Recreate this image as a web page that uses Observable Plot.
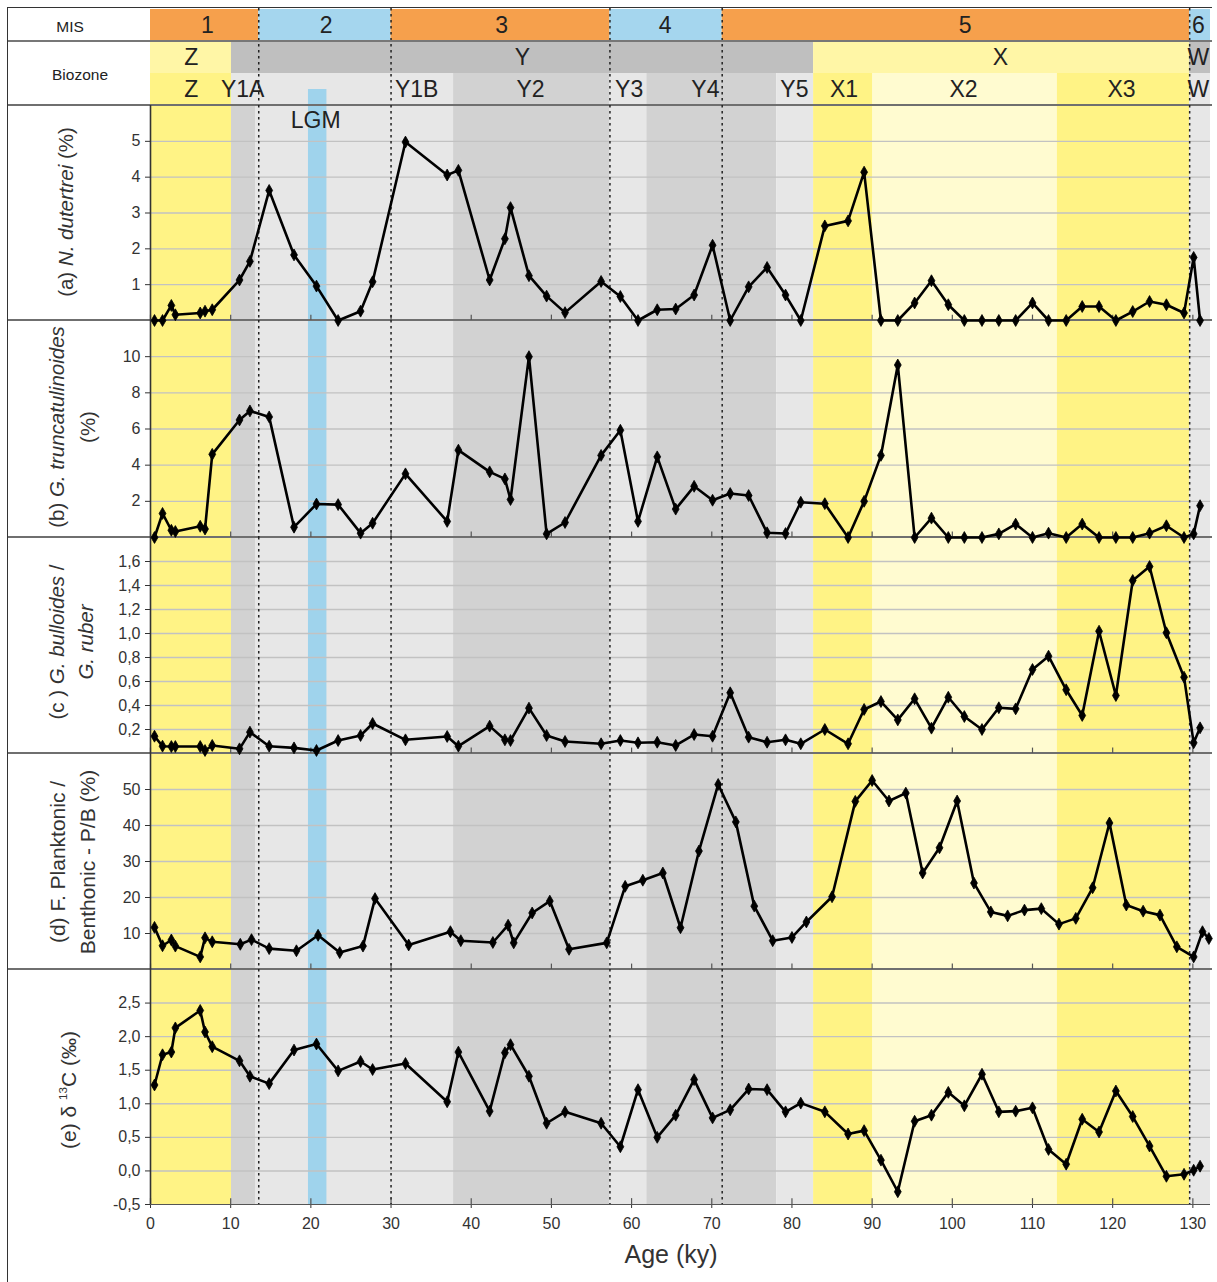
<!DOCTYPE html>
<html>
<head>
<meta charset="utf-8">
<script src="https://cdn.jsdelivr.net/npm/d3@7"></script>
<script src="https://cdn.jsdelivr.net/npm/@observablehq/plot@0.6"></script>
<style>
  body { margin: 0; background: #fff; font-family: "Liberation Sans", Arial, sans-serif; }
  #fig { position: relative; width: 1217px; height: 1282px; overflow: hidden; background: #fff; }
  .pane { position: absolute; left: 0; }
  .pane svg { display: block; }
  .hl { position: absolute; left: 8px; width: 1204px; height: 0; z-index: 2; }
  .vl { position: absolute; z-index: 2; width: 0; }
</style>
</head>
<body>
<div id="fig"></div>
<script>
// ---------- DATA ----------
// sample ages (ky) shared by panels a, b, c, e
const ages = [0.5,1.5,2.6,3.1,6.2,6.8,7.7,11.1,12.4,14.8,17.9,20.7,23.4,26.2,27.7,31.8,37.0,38.4,42.3,44.2,44.9,47.2,49.4,51.7,56.2,58.6,60.8,63.2,65.5,67.8,70.1,72.3,74.6,76.9,79.2,81.1,84.1,87.0,89.0,91.1,93.2,95.3,97.4,99.5,101.5,103.7,105.8,107.9,110.0,112.0,114.2,116.2,118.3,120.4,122.5,124.6,126.7,128.9,130.1,130.9];
// sample ages as plotted in panel d (slightly stretched axis in the original)
const agesD = [0.5,1.5,2.6,3.1,6.2,6.8,7.7,11.2,12.6,14.8,18.2,20.9,23.6,26.5,28.0,32.2,37.4,38.7,42.7,44.6,45.3,47.6,49.8,52.2,56.9,59.2,61.4,63.9,66.1,68.4,70.8,73.0,75.3,77.6,80.0,81.8,85.0,87.9,90.0,92.1,94.2,96.3,98.4,100.6,102.7,104.8,106.9,109.0,111.1,113.3,115.4,117.5,119.6,121.7,123.8,125.9,128.0,130.1,131.2,132.0];

const dutertrei = [0,0,0.42,0.16,0.21,0.26,0.30,1.13,1.65,3.63,1.83,0.96,0,0.26,1.08,4.98,4.06,4.19,1.13,2.28,3.15,1.25,0.68,0.22,1.09,0.67,0,0.30,0.32,0.71,2.10,0,0.94,1.48,0.71,0,2.64,2.78,4.14,0,0,0.49,1.11,0.44,0,0,0,0,0.49,0,0,0.39,0.39,0,0.25,0.53,0.44,0.21,1.76,0];
const truncatulinoides = [0,1.33,0.40,0.33,0.62,0.47,4.60,6.50,7.00,6.67,0.57,1.85,1.82,0.24,0.79,3.52,0.89,4.83,3.63,3.24,2.10,10.0,0.20,0.83,4.54,5.93,0.89,4.46,1.57,2.83,2.06,2.43,2.32,0.26,0.22,1.95,1.87,0,2.00,4.54,9.54,0,1.07,0,0,0,0.20,0.74,0,0.24,0,0.74,0,0,0,0.24,0.65,0,0.20,1.76];
const bullRuber = [0.144,0.061,0.058,0.058,0.058,0.025,0.067,0.039,0.178,0.061,0.047,0.025,0.108,0.150,0.250,0.114,0.142,0.061,0.228,0.114,0.108,0.378,0.150,0.100,0.081,0.108,0.089,0.094,0.067,0.158,0.144,0.506,0.136,0.094,0.114,0.081,0.200,0.081,0.367,0.433,0.280,0.456,0.211,0.469,0.308,0.200,0.381,0.372,0.700,0.811,0.531,0.317,1.019,0.483,1.442,1.558,1.006,0.636,0.089,0.214];
const planktonicPB = [11.7,6.6,8.2,6.5,3.5,8.8,7.7,7.0,8.3,5.8,5.2,9.5,4.7,6.5,19.7,6.8,10.5,8.0,7.5,12.3,7.4,15.7,19.0,5.6,7.4,23.1,24.8,26.8,11.6,32.9,51.4,41.0,17.6,8.0,8.9,13.2,20.2,46.7,52.5,46.8,49.0,26.8,33.8,46.8,24.0,16.0,14.9,16.5,16.9,12.6,14.2,22.7,40.7,17.9,16.2,15.1,6.3,3.5,10.5,8.6];
const d13C = [1.28,1.73,1.77,2.13,2.39,2.07,1.85,1.64,1.41,1.30,1.80,1.89,1.49,1.63,1.51,1.60,1.03,1.77,0.89,1.76,1.88,1.41,0.71,0.88,0.71,0.36,1.21,0.50,0.83,1.36,0.79,0.91,1.22,1.21,0.88,1.01,0.88,0.55,0.60,0.16,-0.31,0.74,0.83,1.17,0.97,1.44,0.88,0.89,0.94,0.32,0.10,0.77,0.58,1.19,0.81,0.37,-0.08,-0.05,0.01,0.07];

// Marine isotope stages
const misNames = ["1","2","3","4","5","6"];
const misStart = [0,13.5,30.0,57.3,71.3,129.6];
const misEnd   = [13.5,30.0,57.3,71.3,129.6,132.2];
const misLabelAt = [7.1,21.9,43.8,64.2,101.6,130.7];
const misType = ["warm","cold","warm","cold","warm","cold"];

// Biozones (upper row)
const zoneNames = ["Z","Y","X","W"];
const zoneStart = [0,10.1,82.7,129.6];
const zoneEnd   = [10.1,82.7,129.6,132.2];
const zoneLabelAt = [5.1,46.4,106.0,130.7];
const zoneType = ["paleY","grey","paleY","grey"];

// Sub-biozones (lower row and panel shading)
const subNames = ["Z","Y1A","Y1B","Y2","Y3","Y4","Y5","X1","X2","X3","W"];
const subStart = [0,10.1,13.1,37.8,57.3,61.9,78.1,82.7,90.1,113.1,129.6];
const subEnd   = [10.1,13.1,37.8,57.3,61.9,78.1,82.7,90.1,113.1,129.6,132.2];
const subLabelAt = [5.1,11.5,33.2,47.4,59.7,69.2,80.3,86.5,101.4,121.1,130.7];
const subTypeHeader = ["yellow","light","light","mid","light","mid","light","yellow","cream","yellow","light"];
const subTypePanel  = ["yellow","mid","light","mid","light","mid","light","yellow","cream","yellow","light"];

const lgm = {name: "LGM", start: 19.7, end: 22.0, labelAt: 20.6};

const xTicks = [0,10,20,30,40,50,60,70,80,90,100,110,120,130];
const aTicks = [1,2,3,4,5];
const aLabels = ["1","2","3","4","5"];
const bTicks = [2,4,6,8,10];
const bLabels = ["2","4","6","8","10"];
const cTicks = [0.2,0.4,0.6,0.8,1.0,1.2,1.4,1.6];
const cLabels = ["0,2","0,4","0,6","0,8","1,0","1,2","1,4","1,6"];
const dTicks = [10,20,30,40,50];
const dLabels = ["10","20","30","40","50"];
const eTicks = [-0.5,0,0.5,1.0,1.5,2.0,2.5];
const eLabels = ["-0,5","0,0","0,5","1,0","1,5","2,0","2,5"];

const titleA = [[["(a) ",""],["N. dutertrei","i"],[" (%)",""]]];
const titleB = [[["(b) ",""],["G. truncatulinoides","i"]],[["(%)",""]]];
const titleC = [[["(c ) ",""],["G. bulloides","i"],[" /",""]],[["G. ruber","i"]]];
const titleD = [[["(d) F. Planktonic /",""]],[["Benthonic - P/B (%)",""]]];
const titleE = [[["(e) δ ",""],["13","s"],["C (‰)","r"]]];

// ---------- STYLE ----------
const colors = {
  warm: "#f6a04c", cold: "#a5d6ee", paleY: "#fff6a6", grey: "#bfbfbf",
  yellow: "#fff385", cream: "#fffbd0", light: "#e7e7e7", mid: "#d2d2d2", lgm: "#9fd3ec"
};
const FONT = "'Liberation Sans', Arial, Helvetica, sans-serif";
const X_DOMAIN = [0, 132.2];
const W = 1217, ML = 150, MR = 7;

const misRows = misNames.map((n, i) => ({name: n, start: misStart[i], end: misEnd[i], at: misLabelAt[i], type: misType[i]}));
const zoneRows = zoneNames.map((n, i) => ({name: n, start: zoneStart[i], end: zoneEnd[i], at: zoneLabelAt[i], type: zoneType[i]}));
const subRows = subNames.map((n, i) => ({name: n, start: subStart[i], end: subEnd[i], at: subLabelAt[i], hType: subTypeHeader[i], pType: subTypePanel[i]}));
const bounds = misStart.slice(1);

const fig = document.getElementById("fig");
function place(svg, top, z) {
  const d = document.createElement("div");
  d.className = "pane";
  d.style.top = top + "px";
  d.style.zIndex = z;
  d.appendChild(svg);
  fig.appendChild(d);
  return svg;
}

function addTitle(svg, lines, cx, cy, gap, size) {
  const g = d3.select(svg).append("g")
    .attr("transform", `translate(${cx},${cy}) rotate(-90)`)
    .attr("font-family", FONT).attr("font-size", size).attr("fill", "#333");
  lines.forEach((parts, i) => {
    const t = g.append("text").attr("x", 0).attr("y", i * gap).attr("dy", "0.36em").attr("text-anchor", "middle");
    parts.forEach(([s, st]) => {
      const sp = t.append("tspan").text(s);
      if (st === "i") sp.attr("font-style", "italic");
      if (st === "s") sp.attr("font-size", size * 0.55).attr("dy", -size * 0.42);
      if (st === "r") sp.attr("dy", size * 0.42);
    });
  });
}

// ---------- HEADER ----------
const header = Plot.plot({
  width: W, height: 97, marginLeft: ML, marginRight: MR, marginTop: 0, marginBottom: 0,
  x: {domain: X_DOMAIN, axis: null},
  y: {type: "band", domain: ["MIS", "Zone", "Sub"], padding: 0, axis: null},
  style: {fontFamily: FONT, background: "transparent", overflow: "visible"},
  marks: [
    Plot.barX(misRows, {x1: "start", x2: "end", y: () => "MIS", fill: d => colors[d.type]}),
    Plot.barX(zoneRows, {x1: "start", x2: "end", y: () => "Zone", fill: d => colors[d.type]}),
    Plot.barX(subRows, {x1: "start", x2: "end", y: () => "Sub", fill: d => colors[d.hType]}),
    Plot.barX([lgm], {x1: "start", x2: "end", y: () => "Sub", insetTop: 16, fill: colors.lgm}),
    Plot.ruleX(bounds, {x: d => d, stroke: "#222", strokeWidth: 1.5, strokeDasharray: "2.5,3.5"}),
    Plot.text(misRows, {x: "at", y: () => "MIS", text: "name", fontSize: 23, fill: "#222"}),
    Plot.text(zoneRows, {x: "at", y: () => "Zone", text: "name", fontSize: 23, fill: "#222"}),
    Plot.text(subRows, {x: "at", y: () => "Sub", text: "name", fontSize: 23, fill: "#222"})
  ]
});
place(header, 8, 1);
d3.select(header).append("text").attr("x", 70).attr("y", 18).attr("dy", "0.36em").attr("text-anchor", "middle")
  .attr("font-family", FONT).attr("font-size", 15.5).attr("fill", "#222").text("MIS");
d3.select(header).append("text").attr("x", 80).attr("y", 66).attr("dy", "0.36em").attr("text-anchor", "middle")
  .attr("font-family", FONT).attr("font-size", 15.5).attr("fill", "#222").text("Biozone");

// ---------- PANELS ----------
function panel({xs, ys, domain, ticks, labels, height, xAxis = false, lgmLabel = false}) {
  const rows = xs.map((x, i) => ({x, y: ys[i]}));
  const span = domain[1] - domain[0];
  const mb = xAxis ? 78 : 0;
  return Plot.plot({
    width: W, height: height + mb, marginLeft: ML, marginRight: MR, marginTop: 0, marginBottom: mb,
    x: xAxis
      ? {domain: X_DOMAIN, ticks: xTicks, tickSize: 4, tickPadding: 9, label: null, tickFormat: d => String(d)}
      : {domain: X_DOMAIN, axis: null},
    y: {domain, ticks, tickSize: 5, tickPadding: 5, label: null, tickFormat: d => labels[ticks.indexOf(d)]},
    style: {fontFamily: FONT, fontSize: "16px", color: "#333", background: "transparent", overflow: "visible"},
    marks: [
      Plot.rect(subRows, {x1: "start", x2: "end", fill: d => colors[d.pType], insetTop: 1, insetBottom: xAxis ? 0 : 1}),
      Plot.rect([lgm], {x1: "start", x2: "end", fill: colors.lgm, insetTop: 1, insetBottom: xAxis ? 0 : 1}),
      Plot.ruleY(ticks.filter(t => t > domain[0]), {y: d => d, stroke: "#c2c2c2", strokeWidth: 1.4}),
      Plot.ruleX(xTicks, {x: d => d, y1: domain[0], y2: domain[0] + span * 0.025, stroke: "#555", strokeWidth: 1.2}),
      Plot.ruleX(bounds, {x: d => d, stroke: "#222", strokeWidth: 1.5, strokeDasharray: "2.5,3.5"}),
      Plot.ruleX([0], {x: d => d, stroke: "#333", strokeWidth: 1.6}),
      xAxis ? Plot.ruleY([domain[0]], {y: d => d, stroke: "#555", strokeWidth: 1.2}) : null,
      lgmLabel ? Plot.text([lgm], {x: "labelAt", frameAnchor: "top", lineAnchor: "middle", dy: 15, text: "name", fontSize: 23, fill: "#222"}) : null,
      Plot.line(rows, {x: "x", y: "y", stroke: "#000", strokeWidth: 2.6}),
      Plot.dot(rows, {x: "x", y: "y", symbol: "diamond", r: 3.6, fill: "#000", stroke: "#000", strokeWidth: 0.8})
    ]
  });
}

const pa = place(panel({xs: ages, ys: dutertrei, domain: [0, 6], ticks: aTicks, labels: aLabels, height: 215, lgmLabel: true}), 105, 9);
addTitle(pa, titleA, 66, 107, 0, 20.5);

const pb = place(panel({xs: ages, ys: truncatulinoides, domain: [0, 12], ticks: bTicks, labels: bLabels, height: 217}), 320, 8);
addTitle(pb, titleB, 57, 107, 31, 20.5);

const pc = place(panel({xs: ages, ys: bullRuber, domain: [0, 1.8], ticks: cTicks, labels: cLabels, height: 216}), 537, 7);
addTitle(pc, titleC, 57, 105, 29, 20.5);

const pd = place(panel({xs: agesD, ys: planktonicPB, domain: [0, 60], ticks: dTicks, labels: dLabels, height: 216}), 753, 6);
addTitle(pd, titleD, 57, 109, 30, 21);

const pe = place(panel({xs: ages, ys: d13C, domain: [-0.5, 3.0], ticks: eTicks, labels: eLabels, height: 235, xAxis: true}), 969, 5);
addTitle(pe, titleE, 68, 121, 0, 21);
d3.select(pe).append("text").attr("x", 671).attr("y", 294).attr("text-anchor", "middle")
  .attr("font-family", FONT).attr("font-size", 25).attr("fill", "#333").text("Age (ky)");

// ---------- FRAME LINES ----------
function hline(top, color, w) {
  const d = document.createElement("div");
  d.className = "hl"; d.style.top = top + "px"; d.style.borderTop = `${w}px solid ${color}`;
  fig.appendChild(d);
}
function vline(left, top, h, color, w) {
  const d = document.createElement("div");
  d.className = "vl"; d.style.left = left + "px"; d.style.top = top + "px"; d.style.height = h + "px";
  d.style.borderLeft = `${w}px solid ${color}`;
  fig.appendChild(d);
}
hline(7, "#333", 1.5);
hline(40, "#777", 2);
hline(104, "#6f6f6f", 2);
hline(319, "#6f6f6f", 2);
hline(536, "#6f6f6f", 2);
hline(752, "#6f6f6f", 2);
hline(968, "#6f6f6f", 2);
vline(7, 7, 1275, "#333", 1.5);
</script>
</body>
</html>
